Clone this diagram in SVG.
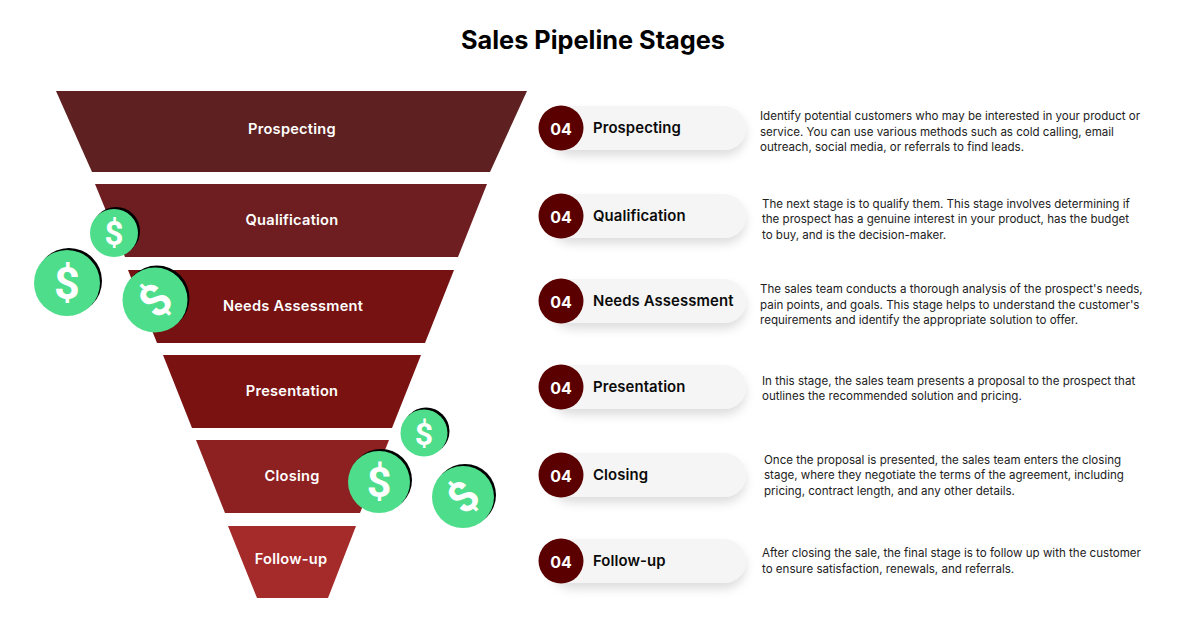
<svg xmlns="http://www.w3.org/2000/svg" width="1200" height="628" viewBox="0 0 1200 628">
<defs>
<filter id="sh" x="-20%" y="-40%" width="140%" height="200%"><feDropShadow dx="0" dy="6" stdDeviation="5" flood-color="#000" flood-opacity="0.13"/></filter>
<g id="pill"><rect x="550" y="-22" width="196" height="44" rx="22" class="pill" filter="url(#sh)"/><circle cx="561" cy="0" r="22.5" class="num"/><text x="561" y="6.5" class="numt">04</text></g>
</defs>
<style>
.title{font-family:Inter,sans-serif;font-size:25.3px;font-weight:700;fill:#000;text-anchor:middle}
.st{font-family:Inter,sans-serif;font-size:14.6px;font-weight:600;letter-spacing:.25px;fill:#fff;text-anchor:middle}
.pill{fill:#f5f5f5}
.num{fill:#5a0000}
.numt{font-family:Inter,sans-serif;font-size:16px;font-weight:700;fill:#fff;text-anchor:middle}
.lb{font-family:Inter,sans-serif;font-size:14.9px;font-weight:600;letter-spacing:.1px;fill:#0a0a0a}
.d{font-family:Inter,sans-serif;font-size:11.55px;fill:#222}
.c{fill:#4edd8a}
.s{fill:#000}
.dl{font-family:Roboto,sans-serif;font-weight:700;fill:#fff;text-anchor:middle}
</style>
<rect width="1200" height="628" fill="#fff"/>
<text x="593" y="49" class="title">Sales Pipeline Stages</text>

<g id="stage-prospecting"><polygon points="56,91 527,91 490,172 92,172" fill="#5e2020"/><text x="292" y="134" class="st">Prospecting</text></g>
<g id="stage-qualification"><polygon points="95,184 487,184 458,257 125,257" fill="#6e1e20"/><text x="292" y="225" class="st">Qualification</text></g>
<g id="stage-needs"><polygon points="128,270 454,270 425,343 157,343" fill="#761212"/><text x="293" y="311" class="st">Needs Assessment</text></g>
<g id="stage-presentation"><polygon points="163,355 421,355 392,428 192,428" fill="#7b1212"/><text x="292" y="396" class="st">Presentation</text></g>
<g id="stage-closing"><polygon points="196,440 389,440 360,513 225,513" fill="#8d2020"/><text x="292" y="481" class="st">Closing</text></g>
<g id="stage-followup"><polygon points="228,526 356,526 328,598 257,598" fill="#a52a2a"/><text x="291" y="564" class="st">Follow-up</text></g>

<g id="coin-1"><circle cx="116" cy="231" r="24" class="s"/><circle cx="114" cy="233" r="24" class="c"/><text x="114" y="245" class="dl" font-size="33">$</text></g>
<g id="coin-2"><circle cx="69" cy="281" r="33" class="s"/><circle cx="67" cy="283" r="33" class="c"/><text x="67" y="299" class="dl" font-size="45">$</text></g>
<g id="coin-3"><circle cx="157" cy="298" r="32.5" class="s"/><circle cx="155" cy="300" r="32.5" class="c"/><text x="155" y="316" class="dl" font-size="45" transform="rotate(-45 155 300)">$</text></g>
<g id="coin-4"><circle cx="426" cy="431" r="23.5" class="s"/><circle cx="424" cy="433" r="23.5" class="c"/><text x="424" y="445" class="dl" font-size="32">$</text></g>
<g id="coin-5"><circle cx="381" cy="480" r="31" class="s"/><circle cx="379" cy="482" r="31" class="c"/><text x="379" y="497" class="dl" font-size="43">$</text></g>
<g id="coin-6"><circle cx="465" cy="495" r="31" class="s"/><circle cx="463" cy="497" r="31" class="c"/><text x="463" y="512" class="dl" font-size="43" transform="rotate(-45 463 497)">$</text></g>

<g id="row-prospecting"><use href="#pill" y="128"/><text x="593" y="133" class="lb">Prospecting</text><text class="d"><tspan x="760" y="120">Identify potential customers who may be interested in your product or</tspan><tspan x="760" y="136">service. You can use various methods such as cold calling, email</tspan><tspan x="760" y="151">outreach, social media, or referrals to find leads.</tspan></text></g>
<g id="row-qualification"><use href="#pill" y="216"/><text x="593" y="221" class="lb">Qualification</text><text class="d"><tspan x="762" y="208">The next stage is to qualify them. This stage involves determining if</tspan><tspan x="762" y="223">the prospect has a genuine interest in your product, has the budget</tspan><tspan x="762" y="239">to buy, and is the decision-maker.</tspan></text></g>
<g id="row-needs"><use href="#pill" y="301"/><text x="593" y="306" class="lb">Needs Assessment</text><text class="d"><tspan x="760" y="293">The sales team conducts a thorough analysis of the prospect's needs,</tspan><tspan x="760" y="309">pain points, and goals. This stage helps to understand the customer's</tspan><tspan x="760" y="324">requirements and identify the appropriate solution to offer.</tspan></text></g>
<g id="row-presentation"><use href="#pill" y="387"/><text x="593" y="392" class="lb">Presentation</text><text class="d"><tspan x="762" y="385">In this stage, the sales team presents a proposal to the prospect that</tspan><tspan x="762" y="400">outlines the recommended solution and pricing.</tspan></text></g>
<g id="row-closing"><use href="#pill" y="475"/><text x="593" y="480" class="lb">Closing</text><text class="d"><tspan x="764" y="464">Once the proposal is presented, the sales team enters the closing</tspan><tspan x="764" y="479">stage, where they negotiate the terms of the agreement, including</tspan><tspan x="764" y="495">pricing, contract length, and any other details.</tspan></text></g>
<g id="row-followup"><use href="#pill" y="561"/><text x="593" y="566" class="lb">Follow-up</text><text class="d"><tspan x="762" y="557">After closing the sale, the final stage is to follow up with the customer</tspan><tspan x="762" y="573">to ensure satisfaction, renewals, and referrals.</tspan></text></g>
</svg>
